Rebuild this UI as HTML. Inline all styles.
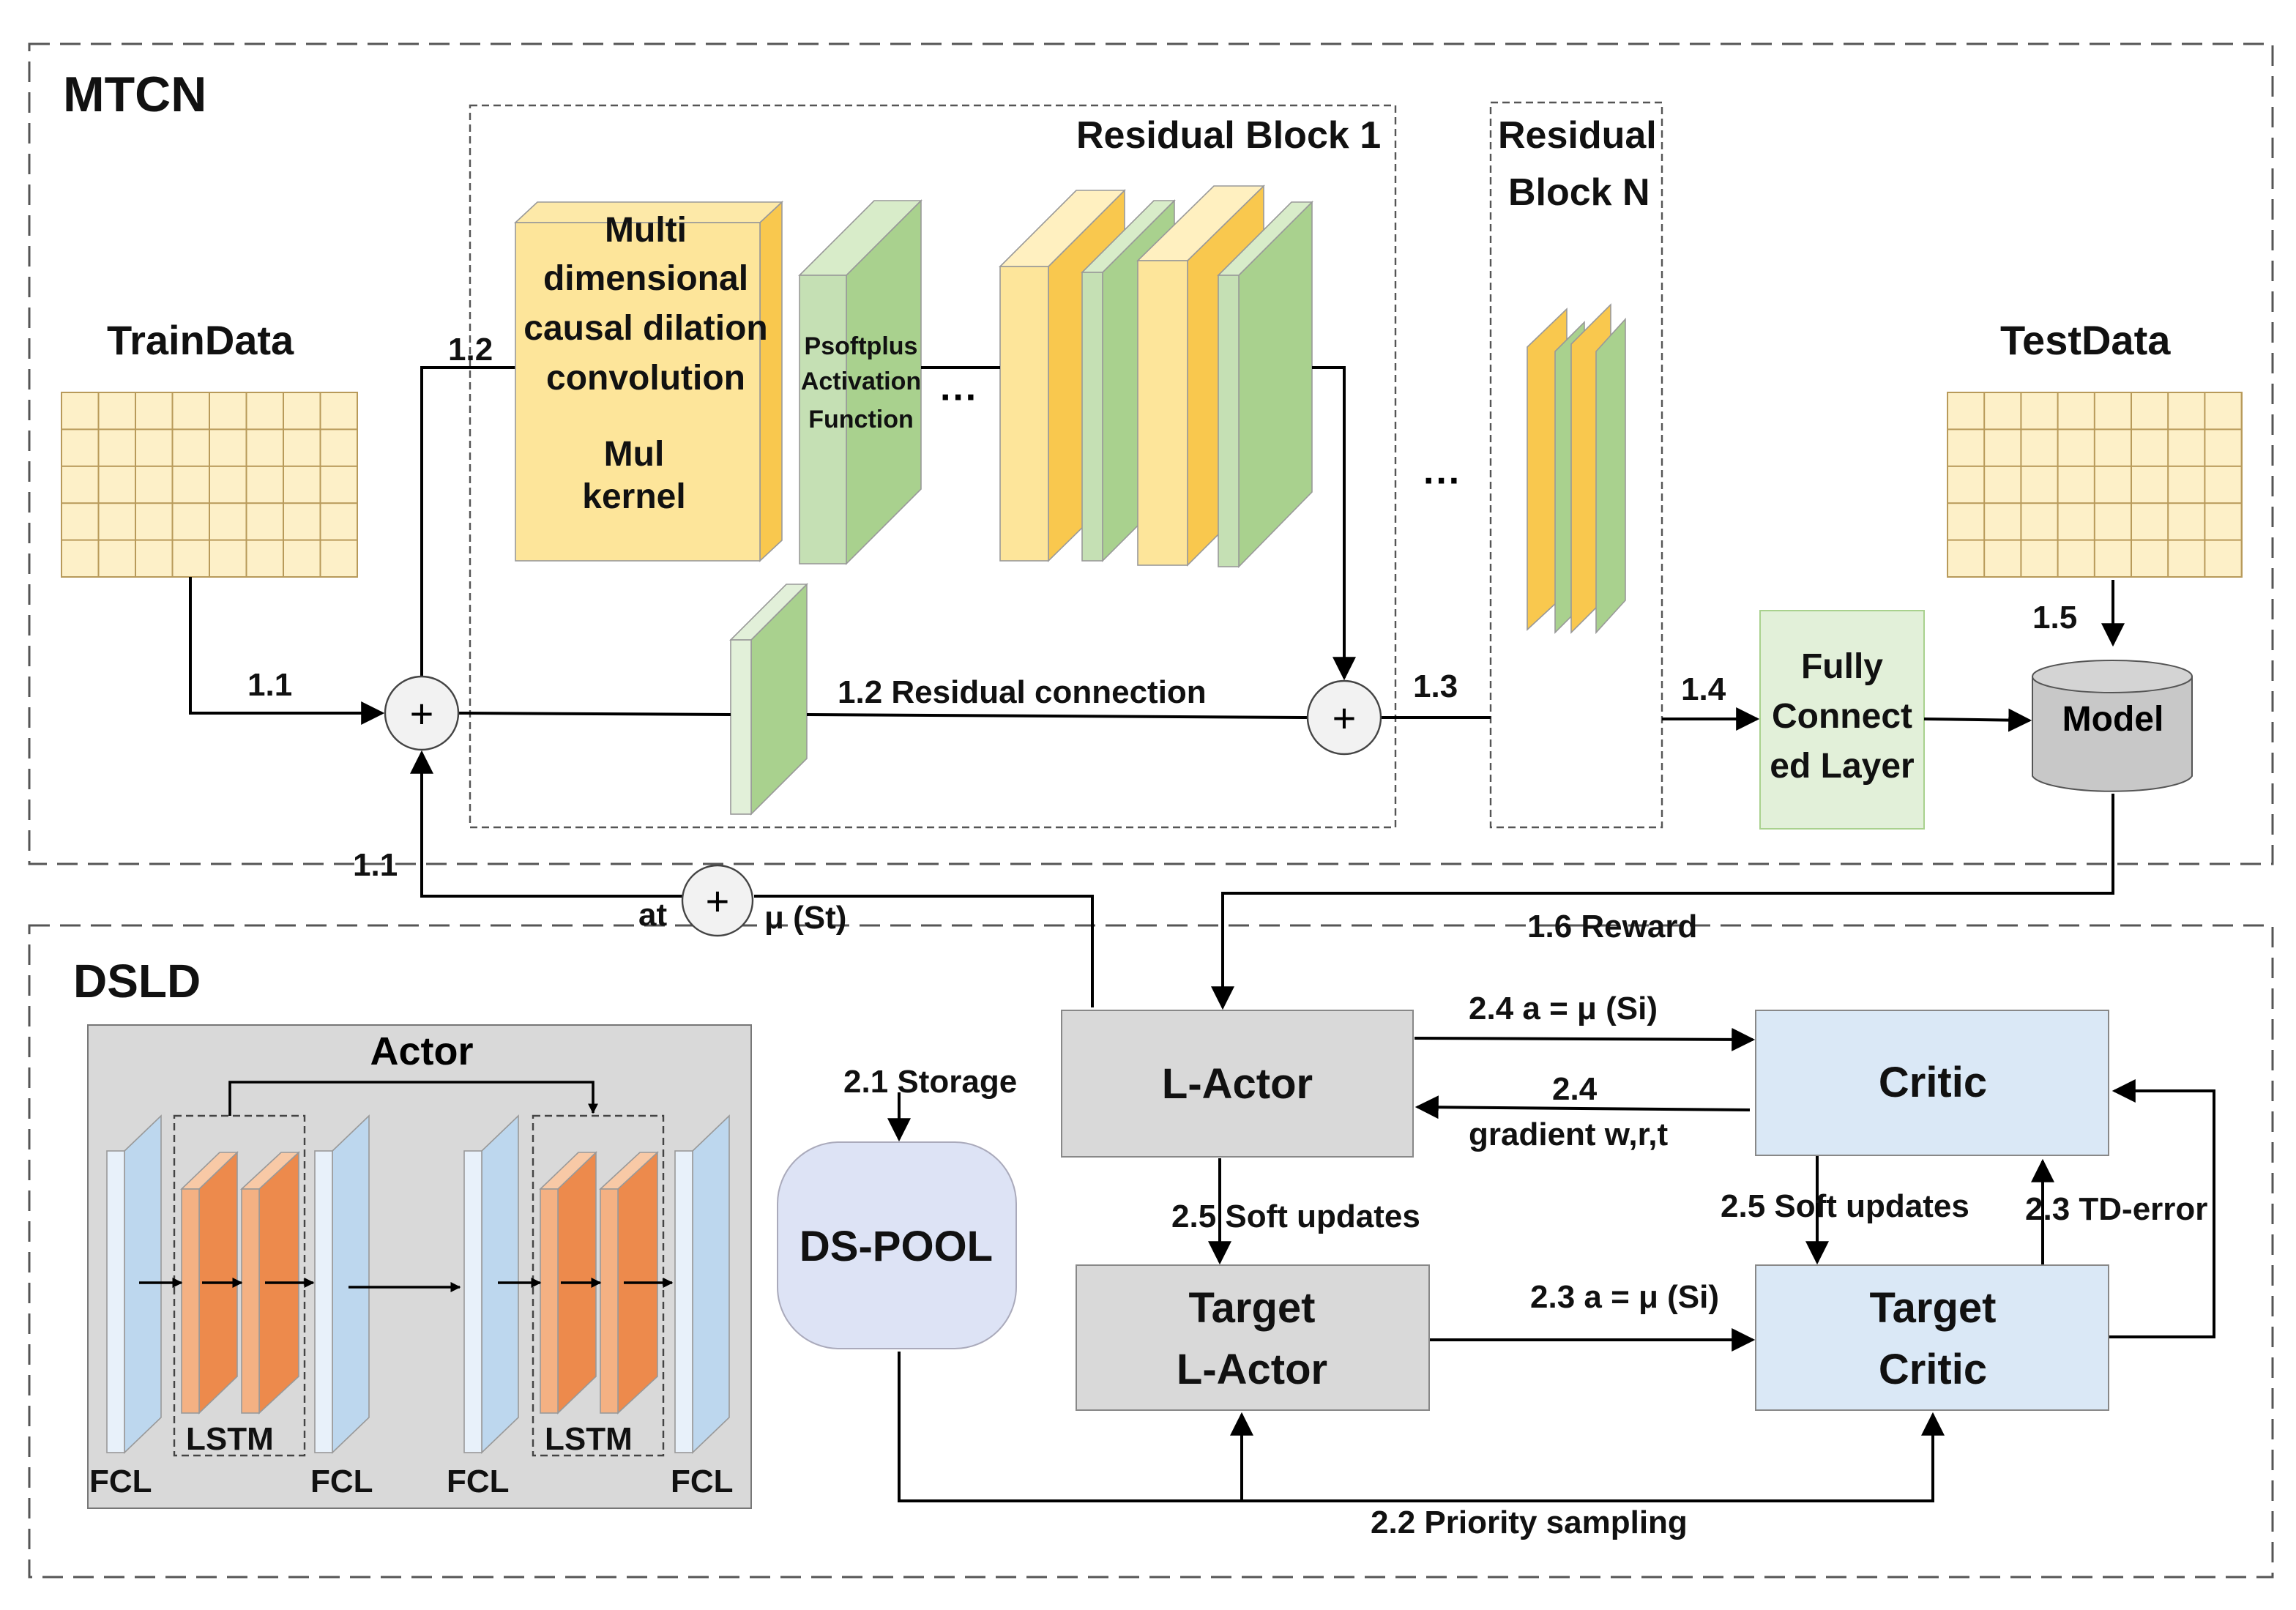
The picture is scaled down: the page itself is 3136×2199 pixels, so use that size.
<!DOCTYPE html>
<html><head><meta charset="utf-8"><style>html,body{margin:0;padding:0;background:#fff}svg{display:block}</style></head>
<body>
<svg xmlns="http://www.w3.org/2000/svg" width="3136" height="2199" viewBox="0 0 1568 1099.5" font-family="'Liberation Sans', sans-serif">
<defs>
<marker id="a" viewBox="0 0 10 10" refX="9" refY="5" markerWidth="7" markerHeight="7" orient="auto-start-reverse" markerUnits="userSpaceOnUse"><path d="M0,0 L10,5 L0,10 z" fill="#000"/></marker>
<marker id="b" viewBox="0 0 10 10" refX="9" refY="5" markerWidth="16" markerHeight="16" orient="auto" markerUnits="userSpaceOnUse"><path d="M0,0 L10,5 L0,10 z" fill="#000"/></marker>
<pattern id="g1" x="42" y="268" width="25.25" height="25.2" patternUnits="userSpaceOnUse"><rect width="25.25" height="25.2" fill="#fdf0c8" stroke="#b89a5a" stroke-width="1"/></pattern>
<pattern id="g2" x="1330" y="268" width="25.1" height="25.2" patternUnits="userSpaceOnUse"><rect width="25.1" height="25.2" fill="#fdf0c8" stroke="#b89a5a" stroke-width="1"/></pattern>
</defs>
<g fill="none" stroke="#555" stroke-width="1.5" stroke-dasharray="14,7">
<rect x="20" y="30" width="1532" height="560"/>
<rect x="20" y="632" width="1532" height="445"/>
</g>
<g fill="none" stroke="#555" stroke-width="1.2" stroke-dasharray="5,3">
<rect x="321" y="72" width="632" height="493"/>
<rect x="1018" y="70" width="117" height="495"/>
</g>
<g font-weight="bold" fill="#111">
<text x="43" y="76" font-size="34">MTCN</text>
<text x="50" y="681" font-size="32">DSLD</text>
<text x="735" y="101" font-size="26">Residual Block 1</text>
<text x="1023" y="101" font-size="26">Residual</text>
<text x="1030" y="140" font-size="26">Block N</text>
<text x="73" y="242" font-size="28">TrainData</text>
<text x="1366" y="242" font-size="28">TestData</text>
</g>
<rect x="42" y="268" width="202" height="126" fill="url(#g1)" stroke="#b89a5a"/>
<rect x="1330" y="268" width="201" height="126" fill="url(#g2)" stroke="#b89a5a"/>
<g fill="none" stroke="#000" stroke-width="2">
<polyline points="288,462 288,251 352,251"/>
</g>
<!-- 3D boxes -->
<g stroke="#999" stroke-width="0.8">
<polygon points="519,152 534,138 534,369 519,383" fill="#f9c84e"/>
<polygon points="352,152 367,138 534,138 519,152" fill="#fde9a8"/>
<rect x="352" y="152" width="167" height="231" fill="#fde59a"/>
<polygon points="578,188 629,137 629,334 578,385" fill="#a9d18e"/>
<polygon points="546,188 597,137 629,137 578,188" fill="#d8ecc9"/>
<rect x="546" y="188" width="32" height="197" fill="#c5e0b4"/>
<polygon points="716,182 768,130 768,332 716,383" fill="#f9c84e"/>
<polygon points="683,182 735,130 768,130 716,182" fill="#fff0c0"/>
<rect x="683" y="182" width="33" height="201" fill="#fde59a"/>
<polygon points="753,186 802,137 802,334 753,383" fill="#a9d18e"/>
<polygon points="739,186 788,137 802,137 753,186" fill="#d8ecc9"/>
<rect x="739" y="186" width="14" height="197" fill="#c5e0b4"/>
<polygon points="811,178 863,127 863,334 811,386" fill="#f9c84e"/>
<polygon points="777,178 829,127 863,127 811,178" fill="#fff0c0"/>
<rect x="777" y="178" width="34" height="208" fill="#fde59a"/>
<polygon points="846,188 896,138 896,336 846,387" fill="#a9d18e"/>
<polygon points="832,188 882,138 896,138 846,188" fill="#d8ecc9"/>
<rect x="832" y="188" width="14" height="199" fill="#c5e0b4"/>
<polygon points="513,437 551,399 551,518 513,556" fill="#a9d18e"/>
<polygon points="499,437 537,399 551,399 513,437" fill="#e2f0d9"/>
<rect x="499" y="437" width="14" height="119" fill="#e2f0d9"/>
<polygon points="1043,237 1070,211 1070,405 1043,430" fill="#f9c84e"/>
<polygon points="1062,240 1082,220 1082,412 1062,432" fill="#a9d18e"/>
<polygon points="1073,235 1100,208 1100,405 1073,432" fill="#f9c84e"/>
<polygon points="1090,240 1110,218 1110,410 1090,432" fill="#a9d18e"/>
</g>
<g font-weight="bold" fill="#111" text-anchor="middle" font-size="24">
<text x="441" y="165">Multi</text>
<text x="441" y="198">dimensional</text>
<text x="441" y="232">causal dilation</text>
<text x="441" y="266">convolution</text>
<text x="433" y="318">Mul</text>
<text x="433" y="347">kernel</text>
</g>
<g font-weight="bold" fill="#111" text-anchor="middle" font-size="17">
<text x="588" y="242">Psoftplus</text>
<text x="588" y="266">Activation</text>
<text x="588" y="292">Function</text>
</g>
<text x="642" y="280" font-size="26" font-weight="bold">···</text>
<text x="972" y="337" font-size="26" font-weight="bold">···</text>
<!-- FC layer & model -->
<rect x="1202" y="417" width="112" height="149" fill="#e2f0d9" stroke="#a9d18e"/>
<g font-weight="bold" fill="#111" text-anchor="middle" font-size="24">
<text x="1258" y="463">Fully</text>
<text x="1258" y="497">Connect</text>
<text x="1258" y="531">ed Layer</text>
</g>
<path d="M1388,462 L1388,530 A55,12 0 0 0 1497,530 L1497,462 Z" fill="#c8c8c8" stroke="#555"/>
<ellipse cx="1442.5" cy="462" rx="54.5" ry="11" fill="#d4d4d4" stroke="#555"/>
<text x="1443" y="499" font-size="24" font-weight="bold" text-anchor="middle">Model</text>
<!-- lines -->
<g fill="none" stroke="#000" stroke-width="2">
<polyline points="130,394 130,487 261,487" marker-end="url(#b)"/>
<line x1="629" y1="251" x2="683" y2="251"/>
<polyline points="896,251 918,251 918,463" marker-end="url(#b)"/>
<line x1="313" y1="487" x2="499" y2="488"/>
<line x1="551" y1="488" x2="893" y2="490"/>
<line x1="943" y1="490" x2="1018" y2="490"/>
<line x1="1135" y1="491" x2="1200" y2="491" marker-end="url(#b)"/>
<line x1="1314" y1="491" x2="1386" y2="492" marker-end="url(#b)"/>
<line x1="1443" y1="396" x2="1443" y2="440" marker-end="url(#b)"/>
<polyline points="1443,542 1443,610 835,610 835,688" marker-end="url(#b)"/>
<polyline points="746,688 746,612 515,612"/>
<polyline points="466,612 288,612 288,514" marker-end="url(#b)"/>
<polyline points="614,746 614,778" marker-end="url(#b)"/>
<line x1="966" y1="709" x2="1197" y2="710" marker-end="url(#b)"/>
<line x1="1195" y1="758" x2="968" y2="756" marker-end="url(#b)"/>
<line x1="833" y1="791" x2="833" y2="862" marker-end="url(#b)"/>
<line x1="1241" y1="789" x2="1241" y2="862" marker-end="url(#b)"/>
<line x1="1395" y1="864" x2="1395" y2="793" marker-end="url(#b)"/>
<polyline points="1440,913 1512,913 1512,745 1444,745" marker-end="url(#b)"/>
<line x1="976" y1="915" x2="1197" y2="915" marker-end="url(#b)"/>
<polyline points="614,923 614,1025 1320,1025 1320,966" marker-end="url(#b)"/>
<line x1="848" y1="1025" x2="848" y2="966" marker-end="url(#b)"/>
</g>
<g fill="#f2f2f2" stroke="#444" stroke-width="1.2">
<circle cx="288" cy="487" r="25"/><circle cx="918" cy="490" r="25"/><circle cx="490" cy="615" r="24"/>
</g>
<g font-size="28" text-anchor="middle" fill="#000"><text x="288" y="497">+</text><text x="918" y="500">+</text><text x="490" y="625">+</text></g>
<g font-weight="bold" fill="#111" font-size="22">
<text x="169" y="475">1.1</text>
<text x="306" y="246">1.2</text>
<text x="572" y="480">1.2 Residual connection</text>
<text x="965" y="476">1.3</text>
<text x="1148" y="478">1.4</text>
<text x="1388" y="429">1.5</text>
<text x="241" y="598">1.1</text>
<text x="436" y="632">at</text>
<text x="522" y="634">μ (St)</text>
<text x="1043" y="640">1.6 Reward</text>
<text x="576" y="746">2.1 Storage</text>
<text x="1003" y="696">2.4 a = μ (Si)</text>
<text x="1060" y="751">2.4</text>
<text x="1003" y="782">gradient w,r,t</text>
<text x="800" y="838">2.5 Soft updates</text>
<text x="1175" y="831">2.5 Soft updates</text>
<text x="1383" y="833">2.3 TD-error</text>
<text x="1045" y="893">2.3 a = μ (Si)</text>
<text x="936" y="1047">2.2 Priority sampling</text>
</g>
<!-- DSLD boxes -->
<rect x="725" y="690" width="240" height="100" fill="#d9d9d9" stroke="#888"/>
<rect x="1199" y="690" width="241" height="99" fill="#dae8f6" stroke="#888"/>
<rect x="735" y="864" width="241" height="99" fill="#d9d9d9" stroke="#888"/>
<rect x="1199" y="864" width="241" height="99" fill="#dae8f6" stroke="#888"/>
<rect x="531" y="780" width="163" height="141" rx="42" fill="#dde3f5" stroke="#aab"/>
<g font-weight="bold" fill="#111" text-anchor="middle" font-size="29">
<text x="845" y="750">L-Actor</text>
<text x="1320" y="749">Critic</text>
<text x="855" y="903">Target</text>
<text x="855" y="945">L-Actor</text>
<text x="1320" y="903">Target</text>
<text x="1320" y="945">Critic</text>
<text x="612" y="861">DS-POOL</text>
</g>
<!-- Actor panel -->
<rect x="60" y="700" width="453" height="330" fill="#d9d9d9" stroke="#777"/>
<text x="288" y="727" font-size="27" font-weight="bold" text-anchor="middle">Actor</text>
<g fill="none" stroke="#444" stroke-width="1.2" stroke-dasharray="5,3">
<rect x="119" y="762" width="89" height="232"/><rect x="364" y="762" width="89" height="232"/>
</g>
<g stroke="#999" stroke-width="0.8">
<g id="fcl"><polygon points="85,786 110,762 110,968 85,992" fill="#bdd7ee"/><rect x="73" y="786" width="12" height="206" fill="#e8f1fa"/></g>
<use href="#fcl" x="142"/><use href="#fcl" x="244"/><use href="#fcl" x="388"/>
<g id="ls"><polygon points="136,812 162,787 162,940 136,965" fill="#ed8a4c"/><polygon points="124,812 150,787 162,787 136,812" fill="#f8c9a6"/><rect x="124" y="812" width="12" height="153" fill="#f4b183"/>
<polygon points="177,812 204,787 204,940 177,965" fill="#ed8a4c"/><polygon points="165,812 192,787 204,787 177,812" fill="#f8c9a6"/><rect x="165" y="812" width="12" height="153" fill="#f4b183"/></g>
<use href="#ls" x="245"/>
</g>
<g fill="none" stroke="#000" stroke-width="1.8">
<line x1="95" y1="876" x2="124" y2="876" marker-end="url(#a)"/>
<line x1="138" y1="876" x2="165" y2="876" marker-end="url(#a)"/>
<line x1="181" y1="876" x2="214" y2="876" marker-end="url(#a)"/>
<line x1="238" y1="879" x2="314" y2="879" marker-end="url(#a)"/>
<line x1="340" y1="876" x2="369" y2="876" marker-end="url(#a)"/>
<line x1="383" y1="876" x2="410" y2="876" marker-end="url(#a)"/>
<line x1="426" y1="876" x2="459" y2="876" marker-end="url(#a)"/>
<polyline points="157,762 157,739 405,739 405,760" marker-end="url(#a)"/>
</g>
<g font-weight="bold" fill="#111" font-size="22">
<text x="127" y="990">LSTM</text><text x="372" y="990">LSTM</text>
<text x="61" y="1019">FCL</text><text x="212" y="1019">FCL</text><text x="305" y="1019">FCL</text><text x="458" y="1019">FCL</text>
</g>
</svg>
</body></html>
